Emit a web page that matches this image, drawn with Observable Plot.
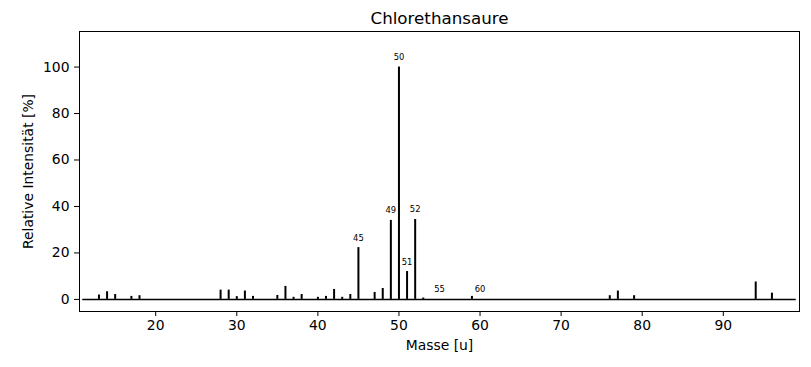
<!DOCTYPE html>
<html>
<head>
<meta charset="utf-8">
<script src="https://cdn.jsdelivr.net/npm/d3@7"></script>
<script src="https://cdn.jsdelivr.net/npm/@observablehq/plot@0.6"></script>
<style>
  html, body { margin: 0; padding: 0; background: white; }
</style>
</head>
<body>
<div id="chart"></div>
<script>
const title = "Chlorethansaure";
const xLabel = "Masse [u]";
const yLabel = "Relative Intensität [%]";

const masses      = [13, 14, 15, 17, 18, 28, 29, 30, 31, 32, 35, 36, 37, 38, 40, 41, 42, 43, 44, 45, 47, 48, 49, 50, 51, 52, 53, 59, 76, 77, 79, 94, 96];
const intensities = [1.9, 3.3, 2.1, 1.3, 1.6, 4.0, 4.0, 1.2, 3.6, 1.3, 1.7, 5.6, 0.9, 2.1, 0.9, 1.3, 4.3, 0.9, 2.1, 22.3, 3.0, 4.7, 34.0, 100, 12.0, 34.4, 0.6, 1.3, 1.6, 3.6, 1.6, 7.5, 2.7];

const labelMasses = [45, 49, 50, 51, 52, 55, 60];
const labelValues = [22.3, 34.0, 100, 12.0, 34.4, 0, 0];

const xTicks = [20, 30, 40, 50, 60, 70, 80, 90];
const yTicks = [0, 20, 40, 60, 80, 100];
const xDomain = [10.6, 99.4];
const yDomain = [-5.2, 115.3];
const baselineRange = [11, 99];

const peaks = masses.map((m, i) => ({m, i: intensities[i]}));
const labels = labelMasses.map((m, i) => ({m, v: labelValues[i], t: String(m)}));
const baseline = [{y: 0, x1: baselineRange[0], x2: baselineRange[1]}];

const chart = Plot.plot({
  width: 811,
  height: 367,
  marginLeft: 79,
  marginRight: 12,
  marginTop: 31,
  marginBottom: 56,
  style: {fontFamily: "DejaVu Sans", color: "black", background: "white", overflow: "visible"},
  x: {domain: xDomain},
  y: {domain: yDomain},
  marks: [
    Plot.ruleY(baseline, {y: "y", x1: "x1", x2: "x2", stroke: "black", strokeWidth: 1.5}),
    Plot.ruleX(peaks, {x: "m", y1: 0, y2: "i", stroke: "black", strokeWidth: 2}),
    Plot.text(labels, {x: "m", y: "v", text: "t", dy: -7, lineAnchor: "bottom", fontSize: 8.4, fill: "black"}),
    Plot.frame({stroke: "black", strokeWidth: 1}),
    Plot.axisX({ticks: xTicks, tickSize: 5, tickPadding: 4, fontSize: 13.9, label: null, strokeWidth: 1}),
    Plot.axisY({ticks: yTicks, tickSize: 5, tickPadding: 5, fontSize: 13.9, label: null, strokeWidth: 1}),
    Plot.text([title], {text: d => d, frameAnchor: "top", dy: -8, lineAnchor: "bottom", fontSize: 16.7, fill: "black"}),
    Plot.text([xLabel], {text: d => d, frameAnchor: "bottom", dy: 29, lineAnchor: "top", fontSize: 13.9, fill: "black"}),
    Plot.text([yLabel], {text: d => d, frameAnchor: "left", dx: -51, rotate: -90, textAnchor: "middle", lineAnchor: "middle", fontSize: 13.9, fill: "black"})
  ]
});
document.getElementById("chart").appendChild(chart);
</script>
</body>
</html>
